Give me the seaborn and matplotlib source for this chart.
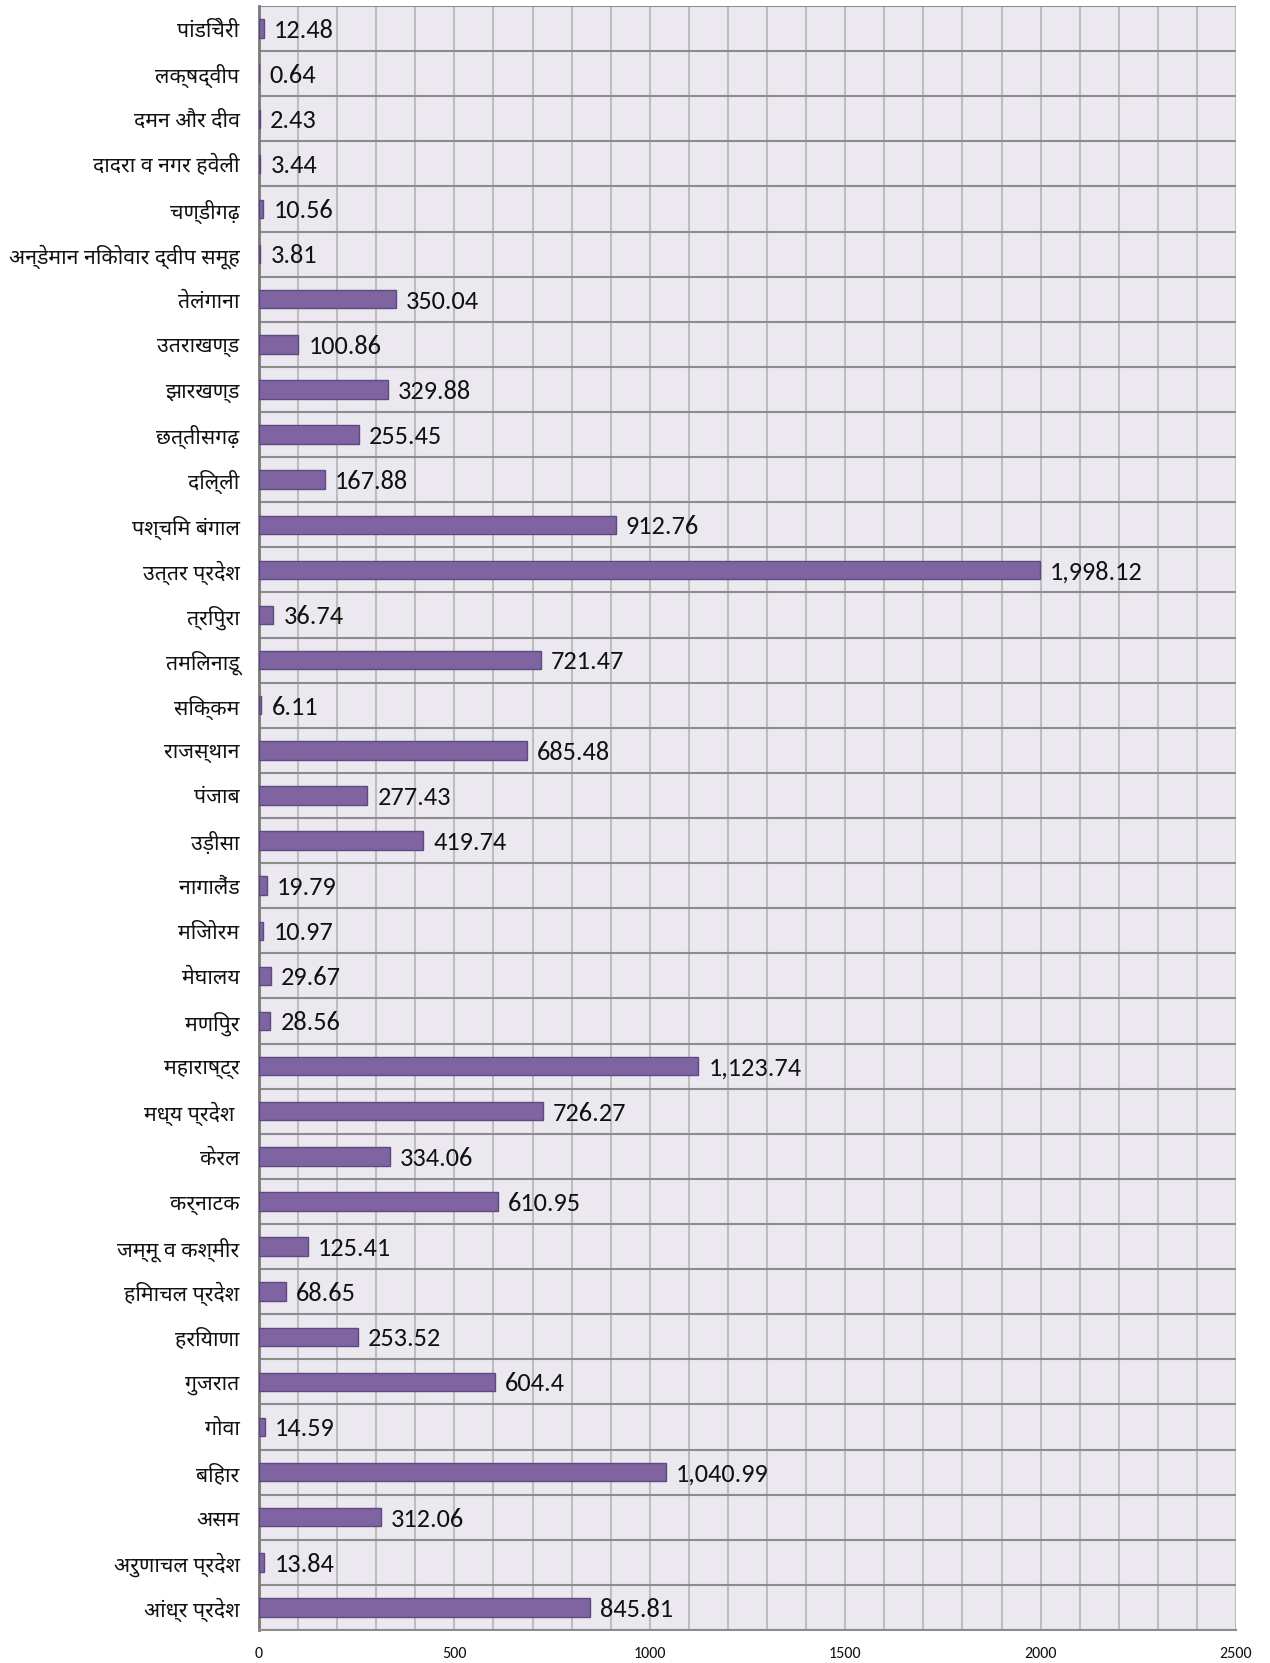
import matplotlib
matplotlib.use('Agg')
import numpy as np
import pandas as pd
import seaborn as sns
import matplotlib.pyplot as plt
from matplotlib import font_manager as fm
from matplotlib.ticker import MultipleLocator, FixedLocator


#%% data (top to bottom as in the chart)

states = ['पांडिचेरी', 'लक्षद्वीप', 'दमन और दीव', 'दादरा व नगर हवेली', 'चण्डीगढ़',
          'अन्डेमान निकोवार द्वीप समूह', 'तेलंगाना', 'उतराखण्ड', 'झारखण्ड', 'छत्तीसगढ़',
          'दिल्ली', 'पश्चिम बंगाल', 'उत्तर प्रदेश', 'त्रिपुरा', 'तमिलनाडू', 'सिक्कम',
          'राजस्थान', 'पंजाब', 'उड़ीसा', 'नागालैंड', 'मिजोरम', 'मेघालय', 'मणिपुर',
          'महाराष्ट्र', 'मध्य प्रदेश ', 'केरल', 'कर्नाटक', 'जम्मू व कश्मीर', 'हिमाचल प्रदेश',
          'हरियाणा', 'गुजरात', 'गोवा', 'बिहार', 'असम', 'अरुणाचल प्रदेश', 'आंध्र प्रदेश']
values = [12.48, 0.64, 2.43, 3.44, 10.56, 3.81, 350.04, 100.86, 329.88, 255.45,
          167.88, 912.76, 1998.12, 36.74, 721.47, 6.11, 685.48, 277.43, 419.74, 19.79,
          10.97, 29.67, 28.56, 1123.74, 726.27, 334.06, 610.95, 125.41, 68.65,
          253.52, 604.4, 14.59, 1040.99, 312.06, 13.84, 845.81]
x_ticks = [0, 500, 1000, 1500, 2000, 2500]

df = pd.DataFrame({'state': states, 'value': values})


#%% fonts

def pick(names):
    for n in names:
        try:
            fm.findfont(n, fallback_to_default=False)
            return n
        except Exception:
            pass
    return 'DejaVu Sans'

hindi_font = pick(['Noto Sans Devanagari', 'Hind', 'Mukta', 'FreeSans'])
num_font = pick(['Carlito', 'Open Sans', 'Noto Sans'])


#%% plot

sns.set_style('white')
plt.rcParams['font.family'] = [num_font, hindi_font, 'DejaVu Sans']

fig = plt.figure(figsize=(12.7, 16.63), dpi=100)
ax = fig.add_axes([259/1270, 1 - 1630/1663, (1236-259)/1270, (1630-6)/1663])
ax.set_facecolor('#ebe9ef')

sns.barplot(data=df, x='value', y='state', orient='h', color='#8064a2',
            saturation=1, width=0.41, edgecolor='#5c4a80', linewidth=1, ax=ax, zorder=3)

for i, v in enumerate(values):
    ax.text(v + 26, i + 0.04, f'{v:,}', va='center', ha='left', fontsize=19,
            family=[num_font, 'DejaVu Sans'], color='#111111', zorder=4)

ax.set_xlim(0, 2500)
ax.set_ylim(len(states) - 0.5, -0.5)
ax.set_xlabel('')
ax.set_ylabel('')

ax.xaxis.set_major_locator(FixedLocator(x_ticks))
ax.xaxis.set_minor_locator(MultipleLocator(100))
ax.yaxis.set_minor_locator(FixedLocator(np.arange(-0.5, len(states), 1)))

ax.tick_params(axis='x', which='major', length=7, width=1.2, color='#8c8c8c',
               labelsize=11.5, pad=5, labelcolor='#111111')
ax.tick_params(axis='x', which='minor', length=0)
ax.tick_params(axis='y', which='major', length=0, pad=14)
ax.tick_params(axis='y', which='minor', length=7, width=1.2, color='#8c8c8c')
for lab in ax.get_yticklabels():
    lab.set_family([hindi_font, 'DejaVu Sans'])
    lab.set_fontsize(15.3)
    lab.set_color('#111111')

ax.grid(axis='x', which='both', color='#bdbdbd', linewidth=1.5, zorder=0)
ax.grid(axis='y', which='minor', color='#8c8c8c', linewidth=1.5, zorder=0)
ax.grid(axis='y', which='major', visible=False)
ax.set_axisbelow(True)

for side in ['top', 'right']:
    ax.spines[side].set_visible(False)
ax.spines['bottom'].set_color('#8c8c8c')
ax.spines['bottom'].set_linewidth(1.5)
ax.spines['left'].set_color('#7a7a7a')
ax.spines['left'].set_linewidth(2)

fig.savefig('out.png', dpi=100)
